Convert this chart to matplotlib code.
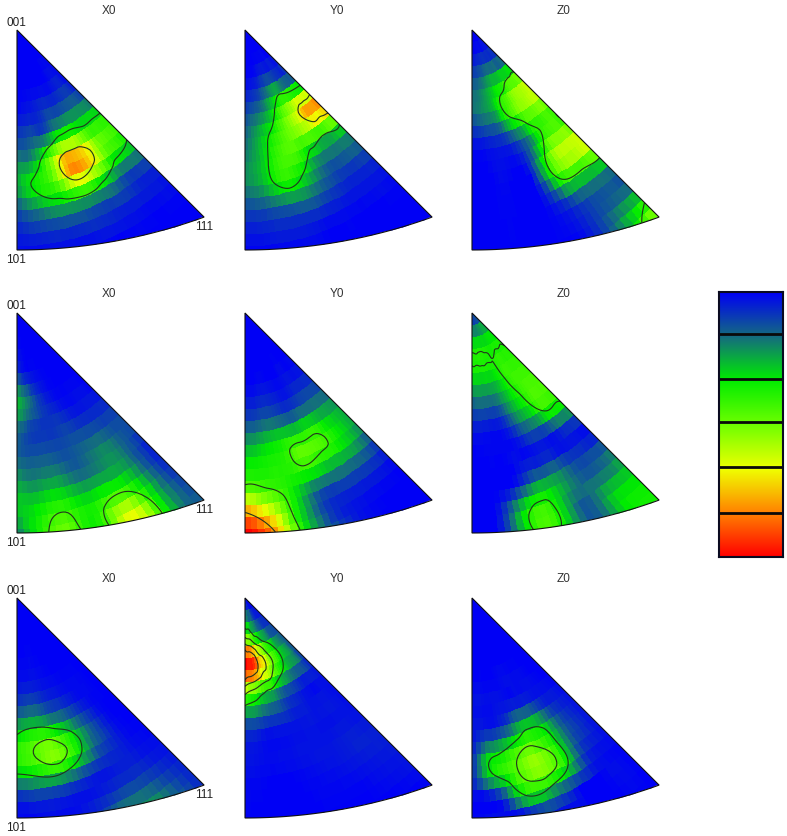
# inverse pole figures, 3 rows of X0 / Y0 / Z0 with a shared colour key

import numpy as np
import matplotlib
matplotlib.use("Agg")
import matplotlib.pyplot as plt
import matplotlib.tri as mtri
from matplotlib.colors import LinearSegmentedColormap
from matplotlib.patches import Polygon

# intensity 0-100, one list per angle from the 001-101 edge (0, 7.5 ... 45 deg),
# each list runs from the 001 corner out to the 101-111 arc in 11 steps
x0_top = [[0,0,0,1,3,10,20,24,14,6,2],
          [0,0,0,1,5,14,25,36,24,10,2],
          [0,0,0,2,7,18,52,48,28,10,2],
          [0,0,0,3,12,36,78,68,24,8,1],
          [0,0,0,4,16,42,72,45,14,4,0],
          [0,0,2,8,20,40,45,18,6,1,0],
          [0,0,2,4,22,42,30,10,2,0,0]]
y0_top = [[0,0,0,5,12,16,20,20,12,5,1],
          [0,0,1,8,18,26,28,27,15,6,1],
          [0,0,3,14,26,38,42,38,18,6,1],
          [0,0,6,24,42,48,42,28,14,3,0],
          [0,0,6,30,58,52,25,14,6,1,0],
          [0,0,6,30,78,45,18,8,3,0,0],
          [0,0,10,36,84,35,14,5,1,0,0]]
z0_top = [[0,2,10,18,14,4,0,0,0,0,0],
          [0,2,12,20,18,6,1,0,0,0,0],
          [0,3,16,26,22,8,2,0,0,0,0],
          [0,4,20,36,38,16,6,3,1,0,0],
          [0,4,22,45,48,28,36,40,16,5,3],
          [0,5,24,55,50,42,60,42,16,14,22],
          [0,5,28,62,44,42,64,30,12,32,58]]

x0_mid = [[0,0,2,12,27,20,14,18,26,28,18],
          [0,0,1,6,18,12,10,16,24,35,40],
          [0,0,0,3,8,8,10,16,26,39,46],
          [0,0,0,1,3,8,12,14,22,36,38],
          [0,0,0,0,1,5,14,20,28,50,68],
          [0,0,0,0,2,6,14,18,22,30,32],
          [0,0,0,0,1,8,12,4,6,10,14]]
y0_mid = [[0,0,0,0,4,12,24,34,46,78,100],
          [0,0,0,0,5,14,28,36,42,62,82],
          [0,0,0,1,6,16,34,38,36,34,38],
          [0,0,0,0,4,15,40,44,22,10,14],
          [0,0,0,2,6,22,44,34,14,4,3],
          [0,0,0,2,10,24,34,24,8,1,0],
          [0,0,0,4,12,24,22,8,1,0,0]]
z0_mid = [[4,24,38,30,16,6,1,0,0,0,1],
          [5,24,38,30,18,6,1,0,0,2,3],
          [5,24,38,30,18,6,1,1,6,30,34],
          [5,26,37,33,26,18,6,4,24,38,38],
          [5,28,38,41,36,26,6,8,20,16,14],
          [5,30,38,42,45,35,6,8,14,26,30],
          [5,30,38,42,45,30,4,14,26,34,36]]

x0_bot = [[0,0,0,1,3,10,26,40,30,8,2],
          [0,0,0,1,4,14,32,48,34,10,2],
          [0,0,0,1,3,10,30,52,32,6,2],
          [0,0,0,0,2,8,24,34,14,3,10],
          [0,0,0,0,1,4,12,12,5,8,20],
          [0,0,0,0,1,1,2,3,4,10,18],
          [0,0,0,0,0,0,0,1,3,5,6]]
y0_bot = [[0,22,62,105,68,30,8,3,2,1,0],
          [0,22,55,95,55,24,6,2,1,0,0],
          [0,18,42,72,42,16,4,2,1,0,0],
          [0,12,32,52,26,8,3,3,2,1,0],
          [0,8,26,36,14,4,3,3,3,1,0],
          [0,6,18,24,6,3,3,5,4,2,0],
          [0,5,14,8,3,2,3,5,4,3,0]]
z0_bot = [[0,0,0,0,1,2,3,5,6,3,1],
          [0,0,0,0,1,2,5,26,34,8,2],
          [0,0,0,0,1,3,12,38,46,34,3],
          [0,0,0,0,2,5,28,47,54,28,3],
          [0,0,0,0,2,6,26,34,33,6,1],
          [0,0,0,0,1,4,10,10,4,1,0],
          [0,0,0,0,0,2,3,2,1,0,0]]

titles = ["X0", "Y0", "Z0"]
panels = [[x0_top, y0_top, z0_top],
          [x0_mid, y0_mid, z0_mid],
          [x0_bot, y0_bot, z0_bot]]
contour_levels = [[[33, 67], [33, 67], [38]],
                  [[42], [42, 80], [37]],
                  [[30, 46], [33, 50, 67, 83], [32, 46]]]

key_lines = [15.8, 33, 49, 66, 83.5]
key_stops = [(0.0, (0, 0, 245)), (0.17, (20, 110, 125)), (0.33, (0, 235, 0)),
             (0.5, (110, 255, 0)), (0.67, (240, 255, 0)), (0.82, (255, 140, 0)),
             (1.0, (255, 0, 0))]
cmap = LinearSegmentedColormap.from_list(
    "ipf", [(p, tuple(c / 255 for c in col)) for p, col in key_stops])

W, H = 787, 837
col_x = [17, 245, 472]
row_y = [31, 314, 599]
edge = 220.0  # 001-101 edge length in px
arc_d = 1.493 * edge
arc_R = arc_d + edge

angles = np.linspace(0, 1, 7)  # share of the 45 deg wedge
fracs = np.linspace(0, 1, 11)
EPS = 1e-6


def rmax(theta):
    c = np.cos(theta)
    return -arc_d * c + np.sqrt((arc_d * c) ** 2 + arc_R ** 2 - arc_d ** 2)


def polar(r, theta):
    return r * np.sin(theta), r * np.cos(theta)


def draw_panel(ax, values, levels):
    values = np.array(values, dtype=float)
    # surface is fitted on the regular (angle, fraction of radius) grid
    tg, sg = np.meshgrid(angles, fracs, indexing="ij")
    tri = mtri.Triangulation(tg.ravel(), sg.ravel())
    interp = mtri.CubicTriInterpolator(tri, values.ravel(), kind="min_E")

    def surface(r, theta):
        t = np.clip(theta / (np.pi / 4), EPS, 1 - EPS)
        s = np.clip(r / rmax(theta), EPS, 1 - EPS)
        return np.ma.filled(interp(t, s), 0.0)

    # blocks on circles round the 001 corner
    r_edges = np.linspace(0, rmax(np.pi / 4), 23)
    t_edges = np.linspace(0, np.pi / 4, 27)
    rr, tt = np.meshgrid(r_edges, t_edges, indexing="ij")
    X, Y = polar(rr, tt)
    rc = 0.5 * (r_edges[:-1] + r_edges[1:])
    tc = 0.5 * (t_edges[:-1] + t_edges[1:])
    rc, tc = np.meshgrid(rc, tc, indexing="ij")
    C = surface(rc, tc)
    mesh = ax.pcolormesh(X, Y, C, cmap=cmap, vmin=0, vmax=100, shading="flat",
                         linewidth=0, antialiased=False)

    # outline of the triangle
    arc_t = np.linspace(0, np.pi / 4, 60)
    ax_, ay_ = polar(rmax(arc_t), arc_t)
    outline = np.column_stack([np.r_[0, ax_], np.r_[0, ay_]])
    wedge = Polygon(outline, closed=True, transform=ax.transData, fc="none",
                    ec="#111111", lw=0.8, zorder=5)
    ax.add_patch(wedge)
    mesh.set_clip_path(wedge)

    # contour lines on a finer version of the same surface
    s_f = np.linspace(0.001, 0.999, 90)
    t_f = np.linspace(0.001, np.pi / 4 - 0.001, 70)
    ss, tf = np.meshgrid(s_f, t_f, indexing="ij")
    Xf, Yf = polar(ss * rmax(tf), tf)
    Zf = surface(ss * rmax(tf), tf)
    cs = ax.contour(Xf, Yf, Zf, levels=levels, colors="#23331f", linewidths=0.8)
    cs.set_clip_path(wedge)


fig = plt.figure(figsize=(W / 100, H / 100), dpi=100)
fig.patch.set_facecolor("white")
plt.rcParams["font.family"] = ["Liberation Sans", "DejaVu Sans"]

for r, row in enumerate(panels):
    for c, values in enumerate(row):
        x0, y0 = col_x[c], row_y[r]
        ax = fig.add_axes([(x0 - 4) / W, 1 - (y0 + 225) / H, 200 / W, 230 / H])
        ax.set_xlim(-4, 196)
        ax.set_ylim(225, -5)
        ax.axis("off")
        draw_panel(ax, values, contour_levels[r][c])
        fig.text((x0 + 92) / W, 1 - (y0 - 20) / H, titles[c], ha="center",
                 va="center", fontsize=8.5, color="#333333")
    y0 = row_y[r]
    fig.text(16 / W, 1 - (y0 - 8) / H, "001", ha="center", va="center",
             fontsize=8.5, color="#222222")
    fig.text(16 / W, 1 - (y0 + 229) / H, "101", ha="center", va="center",
             fontsize=8.5, color="#222222")
    fig.text(204 / W, 1 - (y0 + 196) / H, "111", ha="center", va="center",
             fontsize=8.5, color="#222222")

# colour key, blue on top
cax = fig.add_axes([719 / W, 1 - 558 / H, 64 / W, 265 / H])
gradient = np.linspace(0, 100, 256).reshape(-1, 1)
cax.imshow(gradient, cmap=cmap, vmin=0, vmax=100, aspect="auto",
           extent=[0, 1, 100, 0])
cax.hlines(key_lines, 0, 1, colors="#0a0a0a", linewidth=2.0)
cax.set_xticks([])
cax.set_yticks([])
for s in cax.spines.values():
    s.set_linewidth(1.5)
    s.set_color("#0a0a20")

fig.savefig("out.png", dpi=100)
